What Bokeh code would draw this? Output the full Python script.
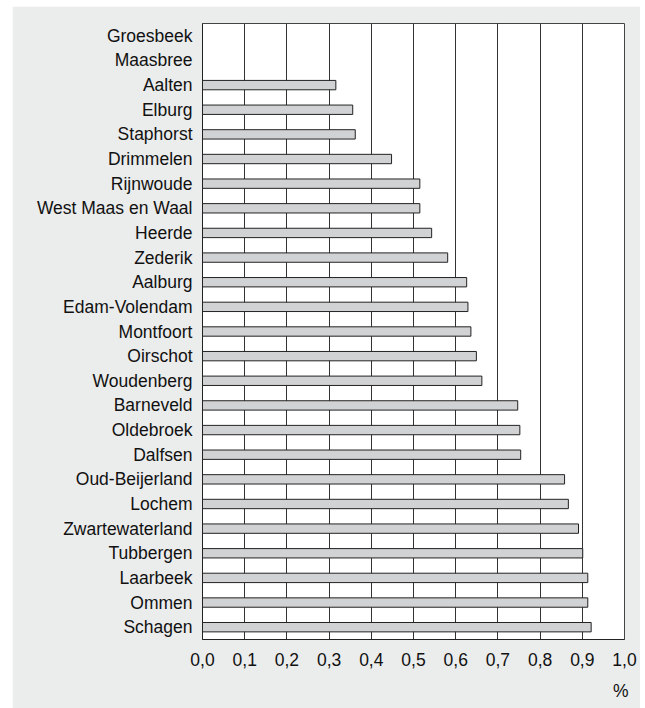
from bokeh.plotting import figure
from bokeh.models import Range1d, FixedTicker, Title, ColumnDataSource, Spacer
from bokeh.layouts import row, column
from bokeh.embed import file_html
from bokeh.resources import INLINE

# ---- data ----
municipalities = [
    "Groesbeek", "Maasbree", "Aalten", "Elburg", "Staphorst", "Drimmelen",
    "Rijnwoude", "West Maas en Waal", "Heerde", "Zederik", "Aalburg",
    "Edam-Volendam", "Montfoort", "Oirschot", "Woudenberg", "Barneveld",
    "Oldebroek", "Dalfsen", "Oud-Beijerland", "Lochem", "Zwartewaterland",
    "Tubbergen", "Laarbeek", "Ommen", "Schagen",
]
values = [
    None, None, 0.316, 0.356, 0.362, 0.448,
    0.515, 0.515, 0.543, 0.581, 0.626,
    0.629, 0.636, 0.649, 0.662, 0.747,
    0.752, 0.754, 0.858, 0.867, 0.891,
    0.901, 0.913, 0.913, 0.921,
]
x_ticks = [0.0, 0.1, 0.2, 0.3, 0.4, 0.5, 0.6, 0.7, 0.8, 0.9, 1.0]
x_tick_labels = ["0,0", "0,1", "0,2", "0,3", "0,4", "0,5", "0,6", "0,7", "0,8", "0,9", "1,0"]
unit_label = "%"

# ---- build ----
idx = [i for i, v in enumerate(values) if v is not None]
src = ColumnDataSource(dict(y=idx, right=[values[i] for i in idx]))

FONT = "Liberation Sans"
FSIZE = "17.5px"
BG = "#ebecec"

n = len(municipalities)
p = figure(
    frame_width=422, frame_height=616,
    x_range=Range1d(0, 1.0), y_range=Range1d(n - 0.5, -0.5),
    output_backend="svg", toolbar_location=None,
    min_border_left=190, min_border_right=16, min_border_top=17, min_border_bottom=69,
    background_fill_color="white", border_fill_color=BG,
    outline_line_color="#444444", outline_line_width=1,
)

p.hbar(y="y", left=0, right="right", height=0.38, source=src,
       fill_color="#d1d2d3", line_color="#222222", line_width=1)

# x axis
p.xaxis.ticker = FixedTicker(ticks=x_ticks)
p.xaxis.major_label_overrides = dict(zip(x_ticks, x_tick_labels))
p.xgrid.ticker = FixedTicker(ticks=x_ticks)
p.xgrid.grid_line_color = "#333333"
p.xgrid.grid_line_width = 1
p.ygrid.visible = False

# y axis
p.yaxis.ticker = FixedTicker(ticks=list(range(n)))
p.yaxis.major_label_overrides = {i: name for i, name in enumerate(municipalities)}

for ax in (p.xaxis[0], p.yaxis[0]):
    ax.major_tick_line_color = None
    ax.minor_tick_line_color = None
    ax.major_tick_in = 0
    ax.major_tick_out = 0
    ax.minor_tick_in = 0
    ax.minor_tick_out = 0
    ax.axis_line_color = "#222222"
    ax.major_label_text_font = FONT
    ax.major_label_text_font_size = FSIZE
    ax.major_label_text_color = "#111111"
p.yaxis.major_label_standoff = 10
p.xaxis.major_label_standoff = 13

p.add_layout(Title(text=unit_label, align="right", text_font=FONT, text_font_size=FSIZE,
                   text_font_style="normal", text_color="#111111", standoff=21, offset=-4),
             "below")

layout = column(Spacer(width=10, height=6), row(Spacer(width=12, height=10), p))

open("out.html", "w").write(file_html(layout, INLINE))
